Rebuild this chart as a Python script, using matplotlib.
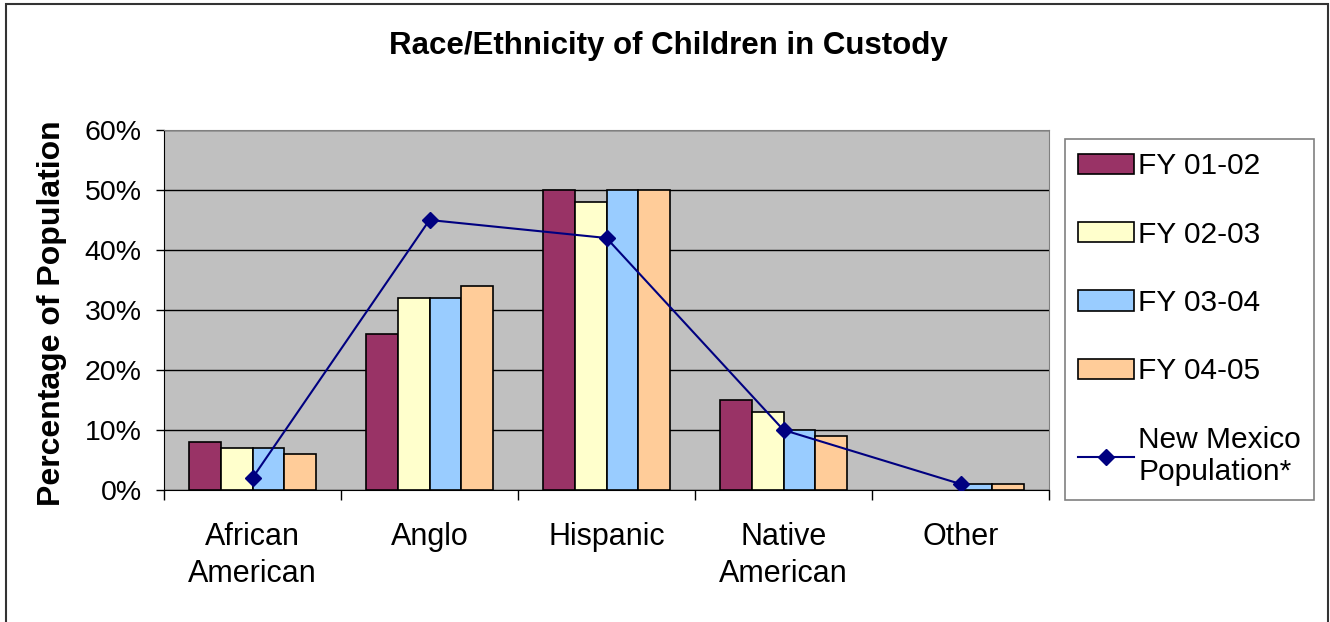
import matplotlib
matplotlib.use("Agg")
import matplotlib.pyplot as plt
import numpy as np
from matplotlib.patches import Rectangle, Patch
from matplotlib.lines import Line2D

plt.rcParams['font.family'] = ['Liberation Sans', 'DejaVu Sans']

categories = ["African\nAmerican", "Anglo", "Hispanic", "Native\nAmerican", "Other"]
series_names = ["FY 01-02", "FY 02-03", "FY 03-04", "FY 04-05"]
fy0102 = [8, 26, 50, 15, 0]
fy0203 = [7, 32, 48, 13, 0]
fy0304 = [7, 32, 50, 10, 1]
fy0405 = [6, 34, 50, 9, 1]
nm_population = [2, 45, 42, 10, 1]
line_name = "New Mexico\nPopulation*"

colors = ["#993366", "#FFFFCC", "#99CCFF", "#FFCC99"]

W, H = 1330, 622
fig = plt.figure(figsize=(W / 100, H / 100), dpi=100)
fig.patch.set_facecolor("white")

# outer chart border
fig.add_artist(Rectangle((6 / W, -0.02), (1328 - 6) / W, 1.02 - 4 / H,
                         transform=fig.transFigure, fill=False,
                         edgecolor="#333333", lw=1.5))

ax = fig.add_axes([164 / W, 1 - 490 / H, (1049 - 164) / W, (490 - 130) / H])
ax.set_facecolor("#C0C0C0")

x = np.arange(len(categories))
bw = 0.18
all_series = [fy0102, fy0203, fy0304, fy0405]
bar_handles = []
for i, (vals, c, name) in enumerate(zip(all_series, colors, series_names)):
    bars = ax.bar(x + (i - 1.5) * bw, vals, bw, color=c, edgecolor="black",
                  linewidth=1.2, zorder=3)
    # empty bars leave no outline, as in the original
    for b, v in zip(bars, vals):
        if v == 0:
            b.set_linewidth(0)
    bar_handles.append(Patch(facecolor=c, edgecolor="black", linewidth=1.2, label=name))

ax.plot(x, nm_population, color="#000080", lw=1.5, marker="D", markersize=8,
        zorder=4)
line_handle = Line2D([], [], color="#000080", lw=1.5, marker="D", markersize=8,
                     label=line_name)

ax.set_xlim(-0.5, len(categories) - 0.5)
ax.set_ylim(0, 60)
ax.set_yticks(range(0, 61, 10))
ax.set_yticklabels([f"{v}%" for v in range(0, 61, 10)], fontsize=20.5)
ax.yaxis.grid(True, color="black", lw=1, zorder=1)
ax.set_axisbelow(True)

ax.set_xticks(x)
ax.set_xticklabels(categories, fontsize=22, linespacing=1.3)
ax.set_xticks(np.arange(len(categories) + 1) - 0.5, minor=True)
ax.tick_params(axis="x", which="major", length=0, pad=23)
ax.tick_params(axis="x", which="minor", length=7, width=1, direction="out")
ax.tick_params(axis="y", length=6, width=1, direction="out", pad=10)

for s in ["top", "right"]:
    ax.spines[s].set_color("#808080")
for s in ["left", "bottom"]:
    ax.spines[s].set_color("black")

fig.text(668 / W, 1 - 46 / H, "Race/Ethnicity of Children in Custody",
         ha="center", va="center", fontsize=22.5, fontweight="bold")
fig.text(52 / W, 1 - 313 / H, "Percentage of Population", rotation=90,
         ha="center", va="center", fontsize=23, fontweight="bold")

leg = fig.legend(handles=bar_handles + [line_handle],
                 loc="upper left", bbox_to_anchor=(1065 / W, 1 - 139 / H),
                 bbox_transform=fig.transFigure, borderaxespad=0,
                 fontsize=21.5, frameon=True, fancybox=False,
                 edgecolor="#808080", framealpha=1,
                 handlelength=1.85, handleheight=0.67, handletextpad=0.15,
                 labelspacing=1.35, borderpad=0.45)
leg.get_frame().set_linewidth(1.2)

fig.savefig("out.png", dpi=100)
